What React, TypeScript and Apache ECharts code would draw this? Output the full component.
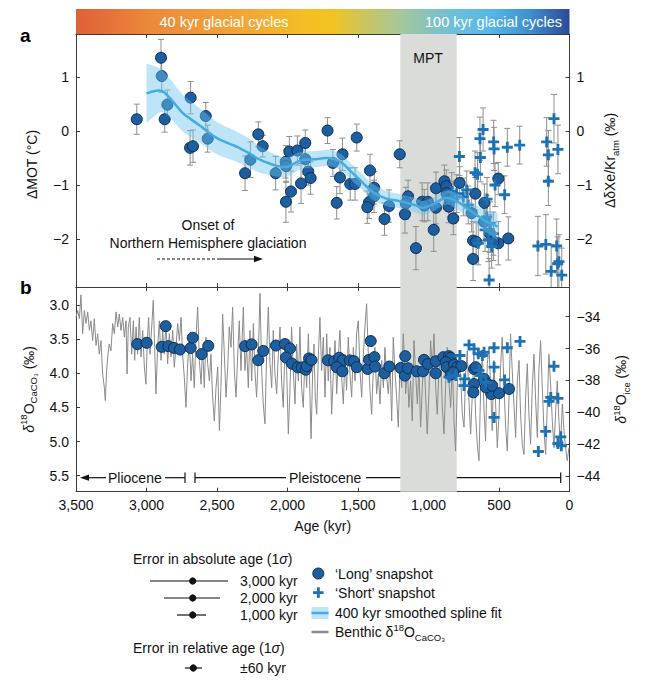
import React, { useEffect, useRef } from 'react';
import * as echarts from 'echarts';

const FONT = "'Liberation Sans', Arial, Helvetica, sans-serif";

// ---------- axes ----------
const xTicks = [3500, 3000, 2500, 2000, 1500, 1000, 500, 0];
const motTicks = [1, 0, -1, -2];
const caco3Ticks = [3.0, 3.5, 4.0, 4.5, 5.0, 5.5];
const iceTicks = [-34, -36, -38, -40, -42, -44];
const MPT = [1200, 800];

// ---------- panel a: ΔMOT snapshots [age kyr, value °C, 1σ] ----------
const longSnapA = [
  [3069, 0.22, 0.28], [2897, 1.36, 0.34], [2892, 1.02, 0.3], [2852, 0.49, 0.27], [2871, 0.22, 0.24],
  [2687, 0.62, 0.3], [2691, -0.31, 0.32], [2670, -0.28, 0.3], [2580, 0.28, 0.25], [2566, -0.14, 0.25],
  [2301, -0.78, 0.32], [2263, -0.53, 0.33], [2207, -0.06, 0.23], [2176, -0.28, 0.2], [2084, -0.78, 0.31],
  [2013, -0.57, 0.3], [2010, -0.65, 0.3], [1987, -0.38, 0.28], [1930, -0.36, 0.27], [1874, -0.22, 0.24],
  [1874, -0.52, 0.28], [1853, -0.75, 0.25], [1836, -0.87, 0.3], [1904, -0.97, 0.37], [1975, -1.12, 0.38],
  [2011, -1.31, 0.38], [1716, 0.01, 0.24], [1678, -0.59, 0.25], [1610, -0.43, 0.3], [1628, -0.86, 0.3],
  [1651, -1.33, 0.3], [1555, -0.98, 0.3], [1521, -0.98, 0.3], [1509, -0.12, 0.25], [1415, -0.73, 0.3],
  [1385, -1.05, 0.3], [1386, -1.21, 0.3], [1422, -1.32, 0.3], [1434, -1.41, 0.3], [1312, -1.63, 0.3],
  [1280, -1.39, 0.3], [1204, -0.43, 0.25], [1145, -1.21, 0.3], [1161, -1.34, 0.3], [1167, -1.54, 0.35],
  [1089, -2.17, 0.4], [1045, -1.31, 0.35], [1005, -1.31, 0.35], [1030, -1.38, 0.3], [947, -1.06, 0.3],
  [947, -1.42, 0.3], [963, -1.83, 0.4], [887, -0.93, 0.3], [874, -1.02, 0.3], [857, -1.4, 0.3],
  [824, -1.62, 0.3], [779, -0.96, 0.3], [668, -1.16, 0.3], [604, -1.33, 0.35], [505, -0.88, 0.3],
  [684, -2.03, 0.35], [662, -2.05, 0.35], [684, -2.37, 0.4], [505, -2.08, 0.4], [434, -1.99, 0.4],
  [872, -1.15, 0.3], [848, -1.28, 0.3], [694, -1.52, 0.35], [606, -1.68, 0.35], [564, -1.9, 0.35],
  [540, -2.05, 0.35],
];
const shortSnapA = [
  [781, -0.47, 0.35], [613, 0.03, 0.4], [635, -0.14, 0.4], [632, -0.49, 0.45], [670, -0.77, 0.4],
  [652, -0.8, 0.4], [538, -0.2, 0.4], [535, -0.33, 0.4], [441, -0.3, 0.35], [353, -0.26, 0.35],
  [528, -1.0, 0.4], [460, -1.18, 0.35], [585, -1.26, 0.4], [570, -2.76, 0.4], [162, -0.2, 0.45],
  [110, 0.23, 0.45], [150, -0.44, 0.45], [82, -0.34, 0.45], [150, -0.93, 0.45], [224, -2.13, 0.55],
  [168, -2.1, 0.55], [91, -2.13, 0.5], [130, -2.6, 0.5], [75, -2.42, 0.5], [55, -2.67, 0.5],
  [84, -2.46, 0.5], [753, -1.22, 0.35], [729, -1.09, 0.35], [718, -1.37, 0.35], [835, -1.12, 0.35],
  [824, -1.28, 0.35], [800, -1.16, 0.35], [587, -1.59, 0.4], [564, -1.71, 0.4], [599, -1.83, 0.4],
  [540, -1.9, 0.4], [576, -2.02, 0.4], [552, -2.14, 0.4], [647, -2.08, 0.4],
];

// 400 kyr smoothed spline fit (centre and half-width of band)
const splineAge = [3000, 2900, 2830, 2740, 2620, 2500, 2360, 2266, 2195, 2080, 2000, 1910, 1800, 1700,
  1620, 1550, 1480, 1400, 1300, 1200, 1100, 1040, 970, 880, 800, 700, 600, 510];
const splineMid = [0.7, 0.75, 0.6, 0.33, 0.1, -0.13, -0.29, -0.42, -0.53, -0.64, -0.66, -0.55, -0.52, -0.5,
  -0.58, -0.75, -0.92, -1.12, -1.25, -1.3, -1.37, -1.42, -1.36, -1.24, -1.3, -1.48, -1.66, -1.77];
const splineHalf = [0.55, 0.4, 0.36, 0.34, 0.32, 0.3, 0.28, 0.27, 0.24, 0.2, 0.18, 0.16, 0.15, 0.15,
  0.15, 0.15, 0.15, 0.15, 0.14, 0.13, 0.13, 0.13, 0.13, 0.13, 0.15, 0.17, 0.2, 0.25];

// ---------- panel b ----------
// benthic δ18O CaCO3 (‰) [age kyr, value]
const benthic = [
  [3500, 3.18], [3488, 3.08], [3476, 3.2], [3465, 2.85], [3453, 3.42], [3441, 3.08], [3429, 3.27], [3417, 3.1],
  [3405, 3.37], [3394, 3.23], [3382, 3.52], [3370, 3.2], [3358, 3.59], [3346, 3.42], [3335, 3.72], [3323, 3.52],
  [3311, 4.01], [3299, 4.21], [3292, 4.4], [3283, 3.96], [3273, 3.72], [3264, 3.57], [3252, 3.67], [3240, 3.27],
  [3228, 3.42], [3216, 3.1], [3204, 3.32], [3193, 3.13], [3181, 3.37], [3169, 3.18], [3157, 3.47], [3145, 3.23],
  [3138, 4.01], [3129, 3.32], [3117, 3.18], [3105, 3.72], [3093, 3.23], [3084, 3.81], [3074, 3.32], [3063, 3.72],
  [3051, 3.18], [3039, 3.76], [3027, 3.37], [3015, 3.91], [3004, 4.16], [2994, 3.52], [2985, 3.18], [2975, 3.72],
  [2963, 3.32], [2952, 2.93], [2942, 3.62], [2933, 4.3], [2921, 3.62], [2909, 3.23], [2897, 3.81], [2885, 3.37],
  [2874, 3.72], [2862, 3.27], [2850, 3.86], [2838, 3.42], [2826, 3.76], [2814, 3.37], [2803, 3.91], [2791, 3.62],
  [2779, 3.27], [2767, 3.52], [2755, 3.18], [2744, 3.72], [2732, 4.06], [2720, 4.5], [2708, 3.86], [2696, 3.52],
  [2684, 4.11], [2673, 3.72], [2661, 4.21], [2649, 3.47], [2637, 3.03], [2625, 3.81], [2613, 4.16], [2602, 3.62],
  [2590, 4.21], [2578, 3.47], [2566, 3.86], [2554, 4.11], [2543, 3.72], [2531, 4.35], [2519, 4.7], [2507, 4.21],
  [2495, 3.91], [2483, 4.84], [2472, 4.21], [2460, 3.13], [2448, 3.72], [2436, 4.35], [2424, 3.91], [2413, 3.32],
  [2401, 3.62], [2389, 3.03], [2377, 3.96], [2365, 4.35], [2353, 3.72], [2342, 3.23], [2330, 3.96],
  [2313, 3.03], [2302, 3.96], [2290, 3.62], [2278, 4.21], [2266, 3.37], [2254, 4.11], [2242, 3.27], [2231, 3.96],
  [2219, 4.35], [2207, 3.72], [2195, 2.83], [2183, 3.96], [2172, 4.45], [2160, 4.74], [2148, 3.72], [2136, 3.03],
  [2124, 3.86], [2112, 4.21], [2101, 3.37], [2089, 4.01], [2077, 4.3], [2065, 3.72], [2053, 3.32], [2042, 4.11],
  [2030, 4.5], [2018, 3.62], [2006, 3.96], [1994, 4.89], [1982, 4.21], [1971, 3.32], [1959, 3.96], [1947, 4.45],
  [1935, 3.57], [1923, 4.11], [1912, 3.32], [1900, 4.21], [1888, 4.5], [1876, 3.72], [1864, 4.21], [1852, 3.42],
  [1841, 4.3], [1833, 4.96], [1822, 4.01], [1812, 3.57], [1803, 4.35], [1793, 4.6], [1781, 3.72], [1770, 3.18],
  [1758, 3.96], [1746, 3.47], [1734, 4.35], [1722, 3.42], [1711, 4.11], [1699, 3.62], [1687, 4.6], [1675, 4.01],
  [1663, 3.52], [1651, 4.3], [1640, 3.76], [1628, 3.37], [1616, 4.06], [1604, 4.45], [1592, 3.72], [1581, 4.25],
  [1569, 3.47], [1557, 4.01], [1545, 4.35], [1533, 3.62], [1521, 4.11], [1510, 3.42], [1498, 3.23], [1486, 3.96],
  [1474, 4.35], [1462, 3.72], [1451, 3.32], [1439, 2.98], [1427, 3.72], [1415, 4.25], [1403, 4.6], [1391, 3.91],
  [1380, 3.62], [1368, 4.3], [1356, 4.01], [1344, 4.45], [1332, 3.81], [1320, 4.21], [1309, 3.62], [1297, 4.06],
  [1285, 4.3], [1273, 3.86], [1261, 4.7], [1250, 3.47], [1238, 3.96], [1226, 4.35], [1214, 4.79], [1202, 3.86],
  [1190, 4.21], [1179, 3.42], [1167, 3.96],
  [1162, 4.3], [1150, 3.91], [1139, 4.5], [1127, 4.11], [1115, 4.7], [1103, 3.52], [1091, 4.01], [1079, 4.45],
  [1068, 3.91], [1056, 4.79], [1044, 4.21], [1032, 3.72], [1020, 4.35], [1009, 4.89], [997, 4.3], [985, 3.52],
  [973, 3.96], [961, 3.42], [949, 4.21], [938, 4.6], [926, 3.96], [914, 3.72], [902, 4.5], [890, 4.89],
  [879, 4.21], [867, 3.62], [855, 4.11], [843, 4.5], [831, 3.86], [819, 4.7], [808, 5.14], [796, 4.21],
  [784, 3.72], [772, 4.06], [760, 4.6], [748, 4.79], [737, 4.01], [725, 3.67], [713, 4.4], [701, 4.89],
  [689, 4.3], [678, 3.72], [666, 4.6], [654, 5.04], [642, 5.28], [630, 4.21], [618, 3.72], [607, 4.5],
  [595, 4.99], [583, 3.86], [571, 3.62], [559, 4.21], [548, 4.84], [536, 3.81], [524, 4.45], [512, 5.09],
  [500, 4.6], [488, 3.86], [477, 3.47], [465, 4.16], [453, 4.79], [441, 5.14], [429, 4.35], [418, 3.42],
  [406, 3.96], [394, 4.45], [382, 4.94], [370, 4.11], [358, 3.81], [347, 4.6], [335, 5.04], [323, 5.19],
  [311, 4.35], [299, 3.86], [288, 4.6], [276, 5.04], [264, 4.21], [252, 3.72], [240, 4.4], [228, 4.94],
  [217, 3.96], [205, 3.52], [193, 4.21], [181, 4.84], [169, 5.19], [157, 4.45], [146, 3.72], [134, 4.16],
  [122, 4.7], [110, 5.09], [98, 4.55], [87, 4.11], [75, 4.7], [63, 5.04], [51, 4.45], [39, 4.84],
  [28, 5.09], [16, 5.28], [4, 5.09],
];
// δ18O ice of snapshots (‰) [age kyr, value]
const longSnapB = [
  [3065, -35.72], [2999, -35.64], [2864, -34.59], [2892, -35.89], [2845, -35.85], [2805, -35.96], [2762, -36.06],
  [2687, -35.97], [2672, -35.32], [2609, -36.35], [2562, -35.83], [2301, -35.85], [2254, -35.74], [2207, -36.73],
  [2172, -36.15], [2082, -35.81], [2018, -35.72], [1982, -36.0], [2011, -36.56], [1968, -36.95], [1927, -37.18],
  [1899, -37.19], [1870, -37.33], [1864, -37.1], [1847, -36.62], [1830, -36.72], [1713, -36.74], [1670, -36.8],
  [1633, -36.58], [1609, -36.75], [1651, -37.17], [1611, -37.43], [1557, -36.75], [1528, -36.8], [1509, -37.17],
  [1431, -37.28], [1422, -36.71], [1410, -35.53], [1384, -36.54], [1379, -37.13], [1313, -37.55], [1278, -37.13],
  [1197, -37.22], [1165, -36.48], [1167, -37.7], [1145, -37.24], [1084, -37.43], [1039, -37.43], [1032, -36.71],
  [1004, -36.97], [949, -36.8], [949, -37.55], [895, -36.54], [855, -36.48], [843, -36.58], [878, -36.86],
  [871, -37.17], [819, -37.0], [796, -37.17], [767, -37.1], [843, -37.64], [824, -37.49], [677, -37.28],
  [665, -37.17], [677, -38.23], [682, -38.75], [606, -37.91], [583, -38.23], [571, -38.44], [555, -38.86],
  [500, -38.81], [429, -38.54], [594, -38.44], [548, -38.33],
];
const shortSnapB = [
  [713, -35.77], [677, -36.02], [647, -36.33], [618, -36.44], [606, -36.23], [535, -35.95], [441, -35.95],
  [351, -35.55], [777, -36.44], [535, -37.17], [460, -37.97], [748, -38.33], [743, -37.91], [855, -37.8],
  [807, -37.7], [630, -37.7], [594, -38.12], [642, -37.38], [535, -40.33], [110, -37.11], [133, -39.07],
  [82, -39.13], [145, -39.32], [169, -41.21], [62, -41.55], [82, -41.97], [58, -42.11], [221, -42.47],
];

const CROSS = 'path://M3.7,0h2.6v3.7h3.7v2.6h-3.7v3.7h-2.6v-3.7h-3.7v-2.6h3.7z';
const DOT_FILL = '#1c5e9e';
const DOT_EDGE = '#0b2f57';
const CROSS_FILL = '#1e72b4';
const BAND_FILL = '#6cc3ee';
const LINE_BLUE = '#45ace0';
const GREY = '#8a8a8a';
const AXIS_C = '#3a3a3a';

const minus = (v: number) => (v < 0 ? '\u2212' + String(Math.abs(v)) : String(v));

// Catmull-Rom smoothing of pixel points (drawing only)
function smoothPts(pts: number[][], seg = 8) {
  const out: number[][] = [];
  const n = pts.length;
  for (let i = 0; i < n - 1; i++) {
    const p0 = pts[Math.max(i - 1, 0)], p1 = pts[i], p2 = pts[i + 1], p3 = pts[Math.min(i + 2, n - 1)];
    for (let s = 0; s < seg; s++) {
      const t = s / seg, t2 = t * t, t3 = t2 * t;
      const f = (a: number, b: number, c: number, d: number) =>
        0.5 * (2 * b + (-a + c) * t + (2 * a - 5 * b + 4 * c - d) * t2 + (-a + 3 * b - 3 * c + d) * t3);
      out.push([f(p0[0], p1[0], p2[0], p3[0]), f(p0[1], p1[1], p2[1], p3[1])]);
    }
  }
  out.push(pts[n - 1]);
  return out;
}

function errorBars(data: number[][], xi: number, yi: number) {
  return {
    type: 'custom', xAxisIndex: xi, yAxisIndex: yi, z: 2, clip: true, silent: true,
    encode: { x: 0, y: 1 },
    data,
    renderItem: (params: any, api: any) => {
      const x = api.value(0), y = api.value(1), e = api.value(2);
      const t = api.coord([x, y + e]);
      const b = api.coord([x, y - e]);
      const w = 3;
      const st = { stroke: '#8e8e8e', lineWidth: 1 };
      return {
        type: 'group', children: [
          { type: 'line', shape: { x1: t[0], y1: t[1], x2: b[0], y2: b[1] }, style: st },
          { type: 'line', shape: { x1: t[0] - w, y1: t[1], x2: t[0] + w, y2: t[1] }, style: st },
          { type: 'line', shape: { x1: b[0] - w, y1: b[1], x2: b[0] + w, y2: b[1] }, style: st },
        ],
      };
    },
  };
}

const baseAxis = {
  axisLine: { show: true, onZero: false, lineStyle: { color: AXIS_C, width: 1 } },
  splitLine: { show: false },
};

function tickOnly(pos: string, grid: number, extra: any = {}) {
  return {
    ...baseAxis, type: 'value', gridIndex: grid, position: pos,
    axisTick: { show: true, inside: true, length: 4, lineStyle: { color: AXIS_C } },
    axisLabel: { show: false }, ...extra,
  };
}

const richSub = {
  n: { fontSize: 14, fontFamily: FONT, color: '#111', lineHeight: 20, verticalAlign: 'middle' },
  i: { fontSize: 14, fontFamily: FONT, color: '#111', fontStyle: 'italic', lineHeight: 20, verticalAlign: 'middle' },
  sup: { fontSize: 9.5, fontFamily: FONT, color: '#111', lineHeight: 11, verticalAlign: 'top' },
  sub: { fontSize: 9.5, fontFamily: FONT, color: '#111', lineHeight: 11, verticalAlign: 'bottom' },
};

export default function App() {
  const ref = useRef<HTMLDivElement>(null);
  useEffect(() => {
    if (!ref.current) return;
    const chart = echarts.init(ref.current, null, { renderer: 'svg', width: 652, height: 680 });
    const labelStyle = { color: '#111', fontSize: 14, fontFamily: FONT };
    const gridL = 76, gridW = 493.5;
    const gridA = { left: gridL, top: 34, width: gridW, height: 253 };
    const gridB = { left: gridL, top: 287, width: gridW, height: 204.7 };

    const xCommon = { min: xTicks[xTicks.length - 1], max: xTicks[0], interval: 500, inverse: true };

    const option: any = {
      animation: false,
      backgroundColor: '#ffffff',
      grid: [gridA, gridB],
      xAxis: [
        tickOnly('bottom', 0, xCommon),
        tickOnly('top', 0, xCommon),
        {
          ...baseAxis, type: 'value', gridIndex: 1, position: 'bottom', ...xCommon,
          axisTick: { show: true, inside: true, length: 4, lineStyle: { color: AXIS_C } },
          axisLabel: { ...labelStyle, margin: 6, formatter: (v: number) => v.toLocaleString('en-US') },
          name: 'Age (kyr)', nameLocation: 'middle', nameGap: 27,
          nameTextStyle: { ...labelStyle },
        },
        tickOnly('top', 1, xCommon),
      ],
      yAxis: [
        {
          ...baseAxis, type: 'value', gridIndex: 0, position: 'left', min: -2.89, max: 1.8,
          axisTick: { show: true, inside: true, length: 4, lineStyle: { color: AXIS_C }, customValues: motTicks },
          axisLabel: { ...labelStyle, margin: 7, customValues: motTicks, formatter: minus },
          name: 'ΔMOT (°C)', nameLocation: 'middle', nameRotate: 90, nameGap: 27,
          nameTextStyle: { ...labelStyle, lineHeight: 20, padding: [0, 0, 0, -8] },
        },
        {
          ...baseAxis, type: 'value', gridIndex: 0, position: 'right', min: -2.89, max: 1.8,
          axisTick: { show: true, inside: true, length: 4, lineStyle: { color: AXIS_C }, customValues: motTicks },
          axisLabel: { ...labelStyle, margin: 7, customValues: motTicks, formatter: minus },
          name: '{n|ΔδXe/Kr}{sub|atm}{n| (‰)}', nameLocation: 'middle', nameRotate: 90, nameGap: 30,
          nameTextStyle: { ...labelStyle, rich: richSub },
        },
        {
          ...baseAxis, type: 'value', gridIndex: 1, position: 'left', min: 2.735, max: 5.735, inverse: true,
          axisTick: { show: true, inside: true, length: 4, lineStyle: { color: AXIS_C }, customValues: caco3Ticks },
          axisLabel: { ...labelStyle, margin: 7, customValues: caco3Ticks, formatter: (v: number) => v.toFixed(1) },
          name: '{i|δ}{sup|18}{n|O}{sub|CaCO₃}{n| (‰)}', nameLocation: 'middle', nameRotate: 90, nameGap: 37,
          nameTextStyle: { ...labelStyle, rich: richSub },
        },
        {
          ...baseAxis, type: 'value', gridIndex: 1, position: 'right', min: -45, max: -32.13,
          axisTick: { show: true, inside: true, length: 4, lineStyle: { color: AXIS_C }, customValues: iceTicks },
          axisLabel: { ...labelStyle, margin: 7, customValues: iceTicks, formatter: minus },
          name: '{i|δ}{sup|18}{n|O}{sub|ice}{n| (‰)}', nameLocation: 'middle', nameRotate: 90, nameGap: 38,
          nameTextStyle: { ...labelStyle, rich: richSub },
        },
      ],
      series: [
        // MPT shading, panel a
        {
          type: 'scatter', xAxisIndex: 0, yAxisIndex: 0, data: [], z: 1, silent: true,
          markArea: { silent: true, itemStyle: { color: '#d9dcd9' }, data: [[{ xAxis: MPT[0] }, { xAxis: MPT[1] }]] },
        },
        // MPT shading, panel b
        {
          type: 'scatter', xAxisIndex: 2, yAxisIndex: 2, data: [], z: 1, silent: true,
          markArea: { silent: true, itemStyle: { color: '#d9dcd9' }, data: [[{ xAxis: MPT[0] }, { xAxis: MPT[1] }]] },
        },
        errorBars(longSnapA, 0, 0),
        errorBars(shortSnapA, 0, 0),
        {
          type: 'scatter', xAxisIndex: 0, yAxisIndex: 0, z: 3, symbol: 'circle', symbolSize: 11,
          data: longSnapA.map((d) => [d[0], d[1]]),
          itemStyle: { color: DOT_FILL, borderColor: DOT_EDGE, borderWidth: 1, opacity: 1 },
        },
        {
          type: 'scatter', xAxisIndex: 0, yAxisIndex: 0, z: 3, symbol: CROSS, symbolSize: 11,
          data: shortSnapA.map((d) => [d[0], d[1]]),
          itemStyle: { color: CROSS_FILL, opacity: 1 },
        },
        {
          type: 'custom', xAxisIndex: 0, yAxisIndex: 0, z: 4, silent: true,
          encode: { x: 0, y: 1 }, data: [[splineAge[0], splineMid[0]]],
          renderItem: (params: any, api: any) => {
            const up = smoothPts(splineAge.map((a, i) => api.coord([a, splineMid[i] + splineHalf[i]])));
            const lo = smoothPts(splineAge.map((a, i) => api.coord([a, splineMid[i] - splineHalf[i]]))).reverse();
            return {
              type: 'polygon', shape: { points: up.concat(lo) },
              style: { fill: BAND_FILL, opacity: 0.45 },
            };
          },
        },
        {
          type: 'custom', xAxisIndex: 0, yAxisIndex: 0, z: 5, silent: true,
          encode: { x: 0, y: 1 }, data: [[splineAge[0], splineMid[0]]],
          renderItem: (params: any, api: any) => {
            const mid = smoothPts(splineAge.map((a, i) => api.coord([a, splineMid[i]])));
            return {
              type: 'polyline', shape: { points: mid },
              style: { stroke: LINE_BLUE, lineWidth: 2.5, fill: null },
            };
          },
        },
        // panel b
        {
          type: 'line', xAxisIndex: 2, yAxisIndex: 2, z: 2, showSymbol: false, silent: true,
          data: benthic, lineStyle: { color: GREY, width: 1 },
        },
        {
          type: 'scatter', xAxisIndex: 2, yAxisIndex: 3, z: 3, symbol: 'circle', symbolSize: 11,
          data: longSnapB, itemStyle: { color: DOT_FILL, borderColor: DOT_EDGE, borderWidth: 1, opacity: 1 },
        },
        {
          type: 'scatter', xAxisIndex: 2, yAxisIndex: 3, z: 4, symbol: CROSS, symbolSize: 11,
          data: shortSnapB, itemStyle: { color: CROSS_FILL, opacity: 1 },
        },
      ],
      graphic: [
        // colour bar
        {
          type: 'rect', shape: { x: gridL, y: 9, width: gridW, height: 25 },
          style: {
            fill: new echarts.graphic.LinearGradient(0, 0, 1, 0, [
              { offset: 0, color: '#e05f38' }, { offset: 0.15, color: '#ec893b' },
              { offset: 0.35, color: '#f3a736' }, { offset: 0.46, color: '#f5bd26' },
              { offset: 0.52, color: '#f0c41e' }, { offset: 0.58, color: '#cdc55c' },
              { offset: 0.66, color: '#a4c79c' }, { offset: 0.76, color: '#70bfd6' },
              { offset: 0.84, color: '#55b8e8' }, { offset: 0.92, color: '#3f8fd0' },
              { offset: 1, color: '#2c4896' },
            ]),
          },
        },
        { type: 'text', style: { text: '40 kyr glacial cycles', x: 224, y: 22, align: 'center', verticalAlign: 'middle', fill: '#fff', fontSize: 14.5, fontFamily: FONT } },
        { type: 'text', style: { text: '100 kyr glacial cycles', x: 562, y: 22, align: 'right', verticalAlign: 'middle', fill: '#fff', fontSize: 14.5, fontFamily: FONT } },
        // panel letters
        { type: 'text', style: { text: 'a', x: 20, y: 35, verticalAlign: 'middle', fill: '#000', fontSize: 19, fontWeight: 'bold', fontFamily: FONT } },
        { type: 'text', style: { text: 'b', x: 20, y: 287, verticalAlign: 'middle', fill: '#000', fontSize: 19, fontWeight: 'bold', fontFamily: FONT } },
        // annotations
        { type: 'text', z: 10, style: { text: 'MPT', x: 428, y: 58, align: 'center', verticalAlign: 'middle', fill: '#111', fontSize: 14, fontFamily: FONT } },
        { type: 'text', style: { text: 'Onset of', x: 208, y: 225, align: 'center', verticalAlign: 'middle', fill: '#111', fontSize: 14, fontFamily: FONT } },
        { type: 'text', style: { text: 'Northern Hemisphere glaciation', x: 208, y: 243, align: 'center', verticalAlign: 'middle', fill: '#111', fontSize: 14, fontFamily: FONT } },
        { type: 'line', shape: { x1: 157, y1: 259, x2: 217, y2: 259 }, style: { stroke: '#111', lineWidth: 1, lineDash: [3, 2] } },
        { type: 'line', shape: { x1: 217, y1: 259, x2: 256, y2: 259 }, style: { stroke: '#111', lineWidth: 1.2 } },
        { type: 'polygon', shape: { points: [[263, 259], [254, 255.8], [254, 262.2]] }, style: { fill: '#111' } },
        // epochs
        { type: 'polygon', shape: { points: [[80, 477.7], [89, 474.6], [89, 480.8]] }, style: { fill: '#111' } },
        { type: 'line', shape: { x1: 88, y1: 477.7, x2: 106, y2: 477.7 }, style: { stroke: '#111', lineWidth: 1.2 } },
        { type: 'text', style: { text: 'Pliocene', x: 108, y: 478, verticalAlign: 'middle', fill: '#111', fontSize: 14, fontFamily: FONT } },
        { type: 'line', shape: { x1: 165, y1: 477.7, x2: 185, y2: 477.7 }, style: { stroke: '#111', lineWidth: 1.2 } },
        { type: 'line', shape: { x1: 185, y1: 472.5, x2: 185, y2: 483 }, style: { stroke: '#111', lineWidth: 1.2 } },
        { type: 'line', shape: { x1: 195, y1: 472.5, x2: 195, y2: 483 }, style: { stroke: '#111', lineWidth: 1.2 } },
        { type: 'line', shape: { x1: 195, y1: 477.7, x2: 286, y2: 477.7 }, style: { stroke: '#111', lineWidth: 1.2 } },
        { type: 'text', style: { text: 'Pleistocene', x: 289, y: 478, verticalAlign: 'middle', fill: '#111', fontSize: 14, fontFamily: FONT } },
        { type: 'line', shape: { x1: 366, y1: 477.7, x2: 560.7, y2: 477.7 }, style: { stroke: '#111', lineWidth: 1.2 } },
        { type: 'line', shape: { x1: 560.7, y1: 472.5, x2: 560.7, y2: 483 }, style: { stroke: '#111', lineWidth: 1.2 } },
        // legend: age errors
        {
          type: 'text', style: {
            text: 'Error in absolute age (1{i|σ})', x: 133, y: 559, verticalAlign: 'middle', fill: '#111', fontSize: 14, fontFamily: FONT,
            rich: { i: { fontStyle: 'italic', fontSize: 14, fontFamily: FONT, fill: '#111' } },
          },
        },
        { type: 'line', shape: { x1: 150, y1: 581, x2: 228, y2: 581 }, style: { stroke: '#111', lineWidth: 1.2 } },
        { type: 'circle', shape: { cx: 192.7, cy: 581, r: 3.6 }, style: { fill: '#111' } },
        { type: 'text', style: { text: '3,000 kyr', x: 240, y: 581, verticalAlign: 'middle', fill: '#111', fontSize: 14, fontFamily: FONT } },
        { type: 'line', shape: { x1: 164, y1: 598, x2: 220, y2: 598 }, style: { stroke: '#111', lineWidth: 1.2 } },
        { type: 'circle', shape: { cx: 192.7, cy: 598, r: 3.6 }, style: { fill: '#111' } },
        { type: 'text', style: { text: '2,000 kyr', x: 240, y: 598, verticalAlign: 'middle', fill: '#111', fontSize: 14, fontFamily: FONT } },
        { type: 'line', shape: { x1: 177, y1: 615, x2: 206, y2: 615 }, style: { stroke: '#111', lineWidth: 1.2 } },
        { type: 'circle', shape: { cx: 192.7, cy: 615, r: 3.6 }, style: { fill: '#111' } },
        { type: 'text', style: { text: '1,000 kyr', x: 240, y: 615, verticalAlign: 'middle', fill: '#111', fontSize: 14, fontFamily: FONT } },
        {
          type: 'text', style: {
            text: 'Error in relative age (1{i|σ})', x: 133, y: 648, verticalAlign: 'middle', fill: '#111', fontSize: 14, fontFamily: FONT,
            rich: { i: { fontStyle: 'italic', fontSize: 14, fontFamily: FONT, fill: '#111' } },
          },
        },
        { type: 'line', shape: { x1: 185, y1: 668, x2: 202, y2: 668 }, style: { stroke: '#111', lineWidth: 1.2 } },
        { type: 'circle', shape: { cx: 193.3, cy: 668, r: 3.6 }, style: { fill: '#111' } },
        { type: 'text', style: { text: '±60 kyr', x: 240, y: 668, verticalAlign: 'middle', fill: '#111', fontSize: 14, fontFamily: FONT } },
        // legend: series
        { type: 'circle', shape: { cx: 318.3, cy: 573.5, r: 5.5 }, style: { fill: DOT_FILL, stroke: DOT_EDGE, lineWidth: 1 } },
        { type: 'text', style: { text: '‘Long’ snapshot', x: 335, y: 573.5, verticalAlign: 'middle', fill: '#111', fontSize: 14, fontFamily: FONT } },
        { type: 'rect', shape: { x: 313, y: 591.2, width: 10.6, height: 2.8 }, style: { fill: CROSS_FILL } },
        { type: 'rect', shape: { x: 317, y: 587.3, width: 2.8, height: 10.6 }, style: { fill: CROSS_FILL } },
        { type: 'text', style: { text: '‘Short’ snapshot', x: 335, y: 592.5, verticalAlign: 'middle', fill: '#111', fontSize: 14, fontFamily: FONT } },
        { type: 'rect', shape: { x: 311.5, y: 607, width: 17, height: 12 }, style: { fill: '#bde4f7' } },
        { type: 'line', shape: { x1: 311.5, y1: 613, x2: 328.5, y2: 613 }, style: { stroke: LINE_BLUE, lineWidth: 2.5 } },
        { type: 'text', style: { text: '400 kyr smoothed spline fit', x: 335, y: 613, verticalAlign: 'middle', fill: '#111', fontSize: 14, fontFamily: FONT } },
        { type: 'line', shape: { x1: 311.5, y1: 632, x2: 328.5, y2: 632 }, style: { stroke: GREY, lineWidth: 2.5 } },
        {
          type: 'text', style: {
            text: '{n|Benthic δ}{sup|18}{n|O}{sub|CaCO₃}', x: 335, y: 632, verticalAlign: 'middle', fill: '#111', fontSize: 14, fontFamily: FONT,
            rich: {
              n: { fontSize: 14, fontFamily: FONT, fill: '#111', lineHeight: 20, verticalAlign: 'middle' },
              sup: { fontSize: 9.5, fontFamily: FONT, fill: '#111', lineHeight: 11, verticalAlign: 'top' },
              sub: { fontSize: 9.5, fontFamily: FONT, fill: '#111', lineHeight: 11, verticalAlign: 'bottom' },
            },
          },
        },
      ],
    };
    chart.setOption(option);
    return () => chart.dispose();
  }, []);
  return <div ref={ref} style={{ position: 'fixed', left: 0, top: 0, width: 652, height: 680, background: '#fff' }} />;
}
